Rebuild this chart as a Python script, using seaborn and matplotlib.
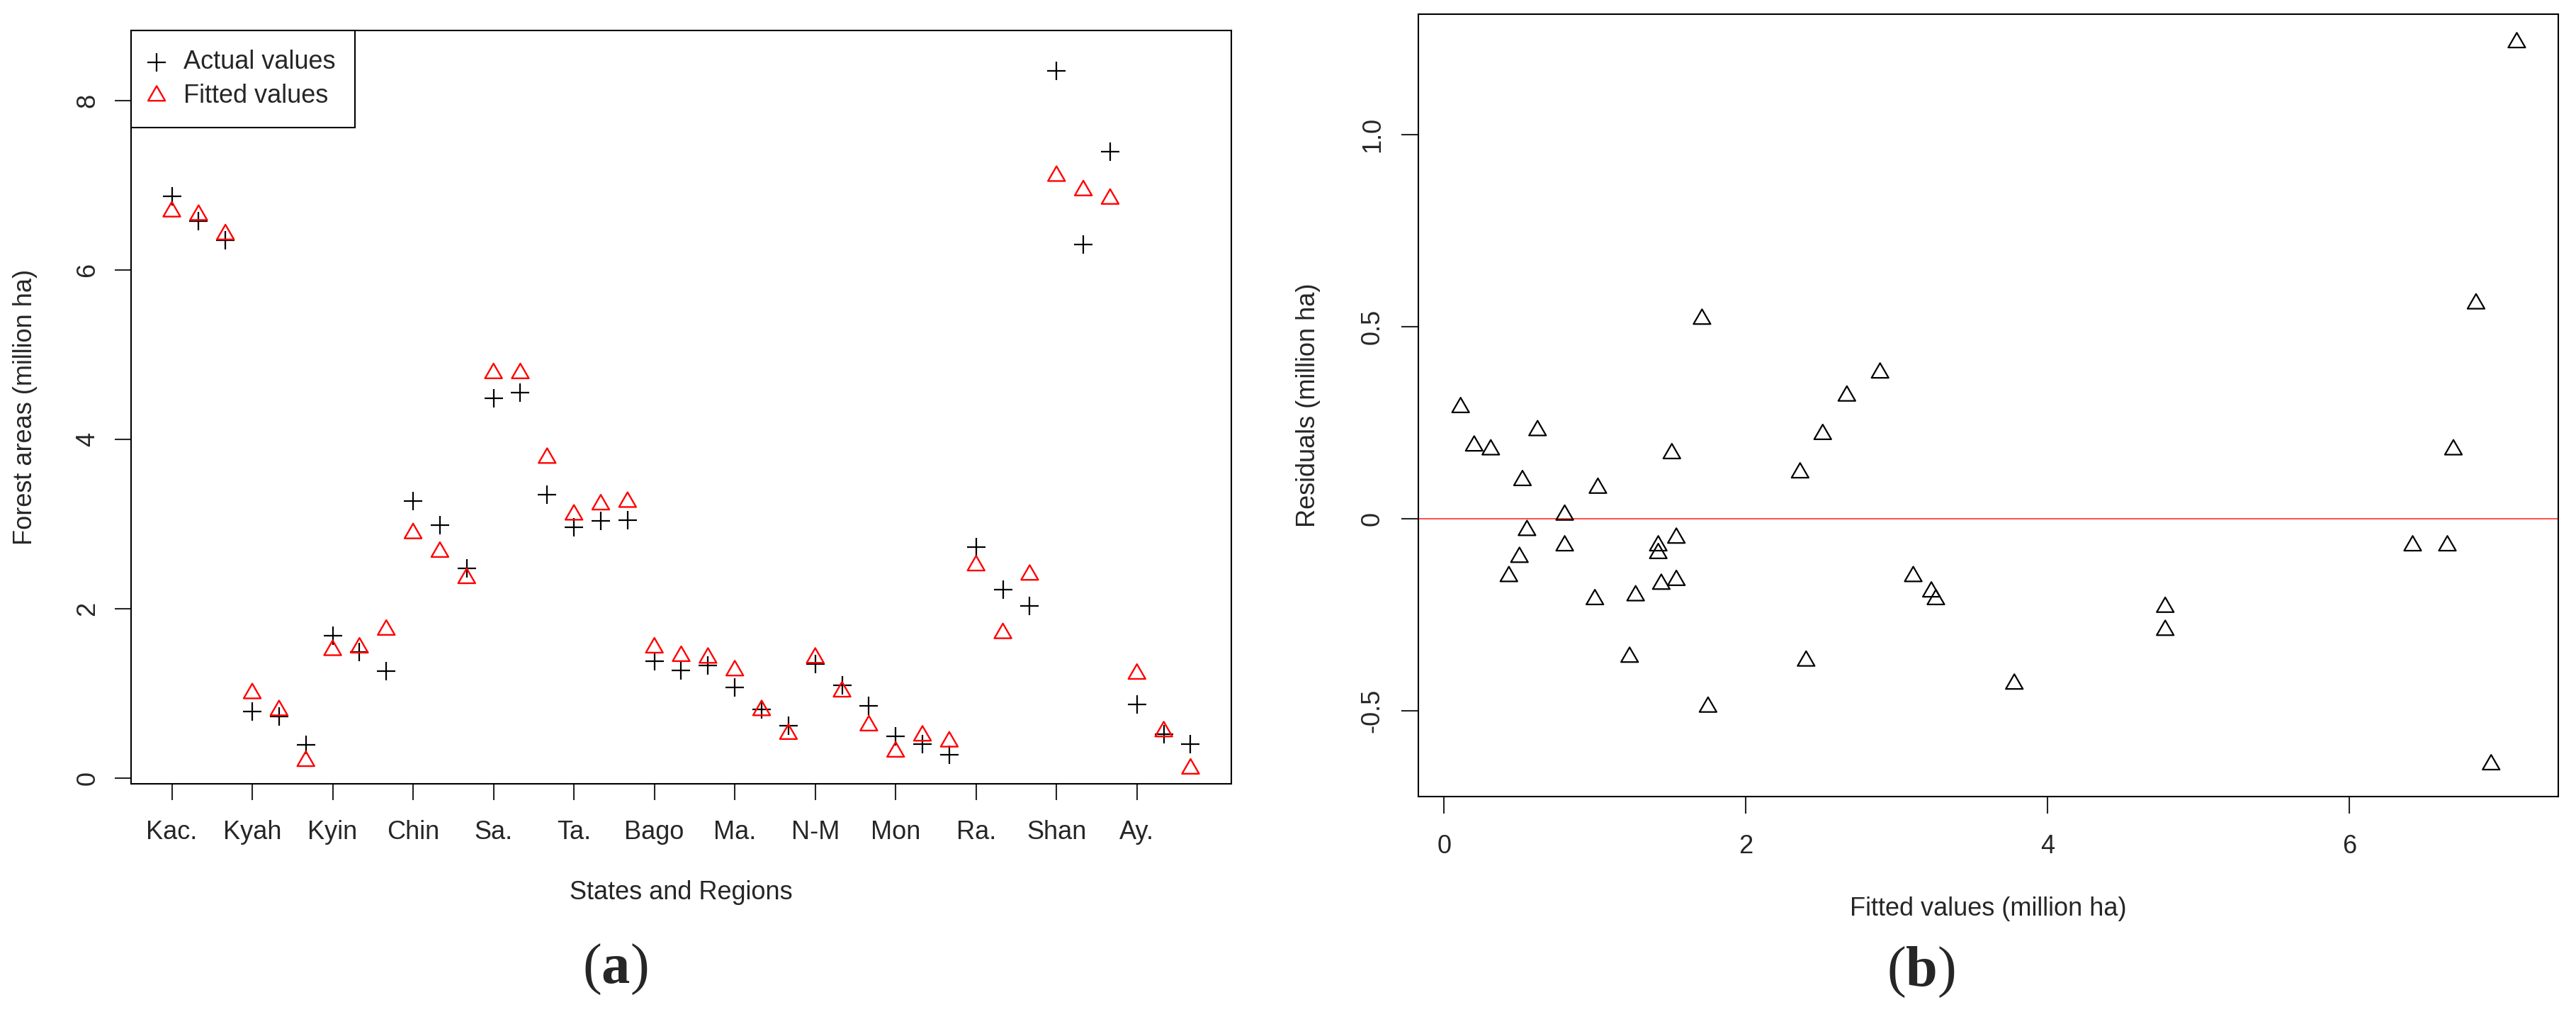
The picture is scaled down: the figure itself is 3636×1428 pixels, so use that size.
import numpy as np
import pandas as pd
import matplotlib
matplotlib.use("Agg")
import matplotlib.pyplot as plt
from matplotlib.path import Path
import seaborn as sns

# region labels, one tick for every third observation
regions = ['Kac.', 'Kyah', 'Kyin', 'Chin', 'Sa.', 'Ta.', 'Bago',
           'Ma.', 'N-M', 'Mon', 'Ra.', 'Shan', 'Ay.']

# fitted forest areas (million ha)
fitted = [6.69, 6.65, 6.42, 1.00, 0.80, 0.20, 1.51, 1.54, 1.75,
          2.89, 2.67, 2.36, 4.78, 4.78, 3.78, 3.11, 3.23, 3.26,
          1.54, 1.44, 1.42, 1.27, 0.80, 0.52, 1.42, 1.02, 0.62,
          0.31, 0.50, 0.43, 2.51, 1.71, 2.40, 7.11, 6.94, 6.84,
          1.23, 0.55, 0.11]

# actual forest areas (million ha)
actual = [6.87, 6.58, 6.35, 0.79, 0.73, 0.39, 1.68, 1.49, 1.26,
          3.27, 2.99, 2.48, 4.49, 4.55, 3.35, 2.96, 3.04, 3.05,
          1.38, 1.27, 1.33, 1.07, 0.81, 0.62, 1.35, 1.10, 0.85,
          0.49, 0.40, 0.28, 2.73, 2.23, 2.03, 8.35, 6.30, 7.40,
          0.87, 0.52, 0.40]

resid_ticks = [-0.5, 0, 0.5, 1.0]
resid_tick_labels = ['-0.5', '0', '0.5', '1.0']

df = pd.DataFrame({
    'obs': np.arange(1, len(actual) + 1),
    'actual': actual,
    'fitted': fitted,
})
df['residual'] = df['actual'] - df['fitted']

sns.set_style("ticks")
plt.rcParams['font.family'] = ['Liberation Sans', 'DejaVu Sans']
plt.rcParams['mathtext.fontset'] = 'custom'
plt.rcParams['mathtext.rm'] = 'Liberation Serif'
plt.rcParams['mathtext.bf'] = 'Liberation Serif:bold'

W, H = 3636, 1428
fig = plt.figure(figsize=(W / 100, H / 100), dpi=100)
ax1 = fig.add_axes([185 / W, 1 - 1106 / H, (1738 - 185) / W, (1106 - 43) / H])
ax2 = fig.add_axes([2002 / W, 1 - 1124 / H, (3611 - 2002) / W, (1124 - 20) / H])

# closed equilateral open triangle like R's pch = 2
tri = Path([(-1, -0.577), (1, -0.577), (0, 1.155), (-1, -0.577)], closed=True)
FS = 26

# (a) actual vs fitted by region
sns.scatterplot(data=df, x='obs', y='actual', marker='+', s=330, color='black',
                linewidth=1.6, label='Actual values', ax=ax1)
sns.scatterplot(data=df, x='obs', y='fitted', marker=tri, s=400, color='red',
                facecolor='none', edgecolor='red', linewidth=1.7,
                label='Fitted values', ax=ax1)
ax1.set_xlim(-0.52, 40.52)
ax1.set_ylim(-0.067, 8.83)
ax1.set_xticks(np.arange(1, len(actual) + 1, 3))
ax1.set_xticklabels(regions, fontsize=FS)
ax1.set_yticks([0, 2, 4, 6, 8])
ax1.set_yticklabels(['0', '2', '4', '6', '8'], fontsize=FS, rotation=90, va='center')
ax1.tick_params(axis='x', length=16.5, width=1.5, pad=20)
ax1.tick_params(axis='y', length=16.5, width=1.5, pad=15)
ax1.set_xlabel('States and Regions', fontsize=FS, labelpad=36)
ax1.set_ylabel('Forest areas (million ha)', fontsize=FS, labelpad=38)
leg = ax1.legend(loc='upper left', bbox_to_anchor=(0, 1), borderaxespad=0,
                 fontsize=FS, frameon=True, fancybox=False, edgecolor='black',
                 framealpha=1, borderpad=0.75, handlelength=0.5,
                 handletextpad=0.8, labelspacing=0.35)
leg.get_frame().set_linewidth(1.5)

# (b) residuals vs fitted
sns.scatterplot(data=df, x='fitted', y='residual', marker=tri, s=400, color='black',
                facecolor='none', edgecolor='black', linewidth=1.6, ax=ax2)
ax2.axhline(0, color='#ff4d4d', lw=1.4, zorder=0)
ax2.set_xlim(-0.17, 7.385)
ax2.set_ylim(-0.723, 1.314)
ax2.set_xticks([0, 2, 4, 6])
ax2.set_xticklabels(['0', '2', '4', '6'], fontsize=FS)
ax2.set_yticks(resid_ticks)
ax2.set_yticklabels(resid_tick_labels, fontsize=FS, rotation=90, va='center')
ax2.tick_params(axis='x', length=17, width=1.5, pad=21)
ax2.tick_params(axis='y', length=17, width=1.5, pad=17)
ax2.set_xlabel('Fitted values (million ha)', fontsize=FS, labelpad=38)
ax2.set_ylabel('Residuals (million ha)', fontsize=FS, labelpad=40)

for ax in (ax1, ax2):
    for sp in ax.spines.values():
        sp.set_visible(True)
        sp.set_color('black')
        sp.set_linewidth(1.5)

fig.text(868 / W, 1 - 1368 / H, r'($\mathbf{a}$)', fontsize=58,
         family='Liberation Serif', ha='center', va='center')
fig.text(2711 / W, 1 - 1372 / H, r'($\mathbf{b}$)', fontsize=58,
         family='Liberation Serif', ha='center', va='center')

fig.savefig('out.png', dpi=100)
